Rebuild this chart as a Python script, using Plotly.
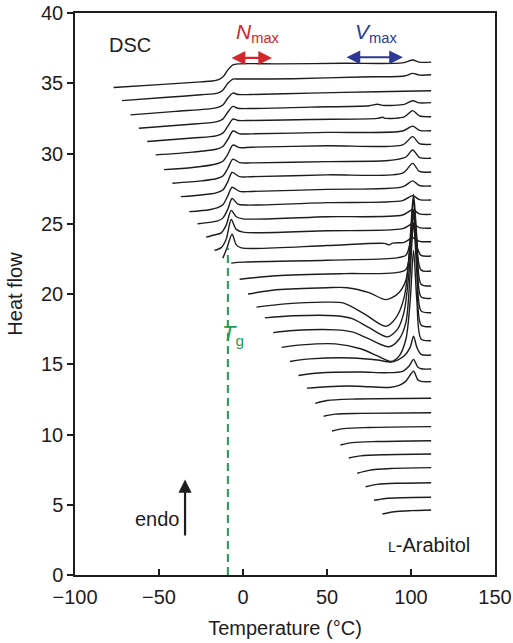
import plotly.graph_objects as go

# ---- DATA: DSC heating curves of L-arabitol, key points (Temperature °C, Heat flow) ----
# curves that start below Tg (show glass transition step / overshoot)
glass_curves = [
    [(-77, 34.7), (-50, 34.9), (-25, 35.1), (-16, 35.2), (-12, 35.45), (-9, 35.95), (-6, 36.3), (-3, 36.38), (20, 36.38), (60, 36.42), (95, 36.45), (101, 36.65), (105, 36.5), (112, 36.5)],
    [(-72, 33.76), (-45, 34.0), (-25, 34.18), (-15, 34.3), (-12, 34.5), (-9, 35.0), (-6, 35.3), (-3, 35.3), (30, 35.32), (70, 35.45), (96, 35.52), (101, 35.7), (105, 35.58), (112, 35.6)],
    [(-67, 32.75), (-40, 33.0), (-16, 33.25), (-12, 33.45), (-9, 33.95), (-6, 34.3), (-3, 34.2), (5, 34.2), (40, 34.3), (80, 34.4), (112, 34.47)],
    [(-62, 31.8), (-35, 32.05), (-16, 32.25), (-12, 32.45), (-9, 32.95), (-6, 33.35), (-3, 33.22), (5, 33.2), (40, 33.3), (75, 33.4), (80, 33.5), (84, 33.42), (96, 33.5), (101, 33.75), (105, 33.6), (112, 33.62)],
    [(-57, 30.85), (-30, 31.1), (-16, 31.25), (-12, 31.45), (-9, 31.95), (-6, 32.45), (-3, 32.35), (5, 32.35), (40, 32.42), (80, 32.5), (83, 32.58), (85, 32.5), (96, 32.6), (101, 33.05), (105, 32.68), (112, 32.62)],
    [(-52, 29.9), (-30, 30.1), (-16, 30.3), (-12, 30.5), (-9, 31.0), (-6, 31.6), (-2, 31.4), (5, 31.4), (50, 31.5), (95, 31.6), (101, 31.95), (105, 31.65), (112, 31.62)],
    [(-47, 28.85), (-30, 29.0), (-16, 29.25), (-12, 29.45), (-9, 29.95), (-6, 30.6), (-2, 30.42), (5, 30.45), (50, 30.55), (95, 30.62), (101, 31.2), (105, 30.7), (112, 30.65)],
    [(-42, 27.88), (-25, 28.05), (-16, 28.2), (-12, 28.4), (-9, 28.95), (-6, 29.6), (-2, 29.35), (5, 29.33), (50, 29.42), (85, 29.48), (92, 29.58), (97, 29.75), (101, 30.25), (105, 29.72), (112, 29.66)],
    [(-37, 26.93), (-25, 27.05), (-16, 27.2), (-12, 27.4), (-9, 28.0), (-6.5, 28.65), (-2, 28.35), (5, 28.35), (50, 28.48), (95, 28.6), (101, 29.3), (105, 28.72), (112, 28.68)],
    [(-32, 25.86), (-20, 26.0), (-15, 26.15), (-12, 26.35), (-9, 27.0), (-6.5, 27.6), (-2, 27.3), (5, 27.3), (50, 27.45), (95, 27.62), (101, 28.05), (105, 27.72), (112, 27.69)],
    [(-27, 25.0), (-20, 25.1), (-15, 25.2), (-12, 25.4), (-9, 26.05), (-6.5, 26.8), (-3, 26.4), (2, 26.33), (50, 26.5), (95, 26.65), (101, 27.0), (105, 26.72), (112, 26.69)],
    [(-22, 24.05), (-17, 24.2), (-13, 24.35), (-10, 24.9), (-7, 25.95), (-4, 25.5), (0, 25.35), (50, 25.5), (95, 25.62), (101, 26.0), (105, 25.7), (112, 25.67)],
    [(-17, 23.1), (-13, 23.3), (-10, 23.9), (-7, 25.3), (-4, 24.6), (0, 24.4), (50, 24.5), (95, 24.65), (101, 25.0), (105, 24.72), (112, 24.68)],
    [(-12, 22.55), (-9.5, 23.3), (-6.5, 24.25), (-4, 23.5), (-1, 23.28), (50, 23.45), (84, 23.6), (87, 23.5), (89, 23.62), (96, 23.68), (101, 24.0), (105, 23.75), (112, 23.72)],
]
# curves showing cold crystallisation (exotherm) and melting peak near 102 °C
cryst_curves = [
    [(-7, 22.2), (0, 22.27), (50, 22.4), (90, 22.55), (97, 22.75), (100, 24.0), (101.5, 25.0), (103, 23.6), (106, 22.75), (112, 22.7)],
    [(-2, 21.05), (20, 21.3), (60, 21.45), (90, 21.5), (97, 21.75), (100, 23.5), (101.5, 25.8), (103, 24.0), (106, 21.7), (112, 21.64)],
    [(3, 20.0), (20, 20.3), (50, 20.45), (62, 20.45), (75, 20.1), (85, 19.6), (92, 20.0), (97, 21.0), (99.5, 24.0), (101.5, 27.1), (103.5, 24.0), (106, 20.7), (112, 20.57)],
    [(8, 19.07), (25, 19.3), (50, 19.42), (60, 19.35), (72, 18.6), (85, 17.7), (91, 18.3), (96, 19.8), (99.5, 23.5), (101.5, 26.7), (103.5, 23.5), (106, 19.8), (112, 19.69)],
    [(13, 18.3), (30, 18.45), (55, 18.45), (65, 18.25), (75, 17.6), (86, 16.95), (92, 17.5), (96, 18.8), (99.5, 22.5), (101.5, 26.0), (103.5, 22.5), (106, 18.8), (112, 18.67)],
    [(18, 17.25), (30, 17.4), (55, 17.45), (65, 17.3), (75, 16.8), (87, 16.25), (93, 16.8), (97, 18.0), (99.5, 21.5), (101.5, 25.1), (103.5, 21.5), (106, 17.8), (112, 17.67)],
    [(23, 16.2), (35, 16.38), (55, 16.45), (70, 16.1), (80, 15.6), (88, 15.2), (93, 15.6), (97, 16.8), (99.5, 19.5), (101.5, 23.1), (103.5, 19.5), (106, 16.8), (112, 16.68)],
    [(28, 15.2), (40, 15.38), (65, 15.45), (80, 15.3), (88, 15.15), (92, 15.3), (96, 15.6), (99.5, 16.2), (101.5, 17.0), (103.5, 16.2), (106, 15.7), (112, 15.66)],
    [(33, 14.2), (45, 14.38), (70, 14.45), (85, 14.4), (95, 14.5), (99, 14.9), (101.5, 15.35), (104, 14.8), (106, 14.68), (112, 14.66)],
    [(38, 13.3), (50, 13.4), (62, 13.45), (75, 13.4), (87, 13.35), (93, 13.5), (97, 13.8), (101.5, 14.5), (104, 13.9), (106, 13.78), (112, 13.76)],
]
# curves starting above the crystallisation range (flat)
flat_curves = [
    [(43, 12.22), (50, 12.42), (65, 12.52), (112, 12.58)],
    [(48, 11.30), (55, 11.45), (70, 11.50), (112, 11.55)],
    [(53, 10.25), (60, 10.42), (75, 10.50), (112, 10.56)],
    [(58, 9.25), (65, 9.42), (80, 9.50), (112, 9.56)],
    [(63, 8.33), (70, 8.48), (85, 8.56), (112, 8.61)],
    [(68, 7.24), (75, 7.45), (88, 7.58), (112, 7.64)],
    [(73, 6.28), (80, 6.45), (92, 6.53), (112, 6.57)],
    [(78, 5.32), (85, 5.45), (95, 5.50), (112, 5.53)],
    [(83, 4.34), (90, 4.50), (100, 4.58), (112, 4.63)],
]
tg_temp = -9
tg_top = 23.3
x_ticks = [-100, -50, 0, 50, 100, 150]
y_ticks = [0, 5, 10, 15, 20, 25, 30, 35, 40]

FONT = "Liberation Sans, Arial, sans-serif"
INK = "#1e1c1d"
RED = "#d3262d"
BLUE = "#2d3995"
GREEN = "#1f9d55"

fig = go.Figure()

for curve in glass_curves + cryst_curves + flat_curves:
    fig.add_trace(go.Scatter(
        x=[p[0] for p in curve], y=[p[1] for p in curve],
        mode="lines", line=dict(color=INK, width=1.4, shape="spline", smoothing=0.8),
        hoverinfo="skip", showlegend=False))

# Tg dashed line
fig.add_trace(go.Scatter(x=[tg_temp, tg_temp], y=[0, tg_top], mode="lines",
                         line=dict(color=GREEN, width=2, dash="8px,5px"),
                         hoverinfo="skip", showlegend=False))

ann = []
ann.append(dict(x=-67.3, y=37.7, text="DSC", showarrow=False,
                font=dict(family=FONT, size=20, color=INK)))
ann.append(dict(x=9, y=38.6, text="<i>N</i><sub>max</sub>", showarrow=False,
                font=dict(family=FONT, size=21, color=RED)))
ann.append(dict(x=79, y=38.6, text="<i>V</i><sub>max</sub>", showarrow=False,
                font=dict(family=FONT, size=21, color=BLUE)))
ann.append(dict(x=-6.0, y=17.1, text="<i>T</i><sub>g</sub>", showarrow=False,
                font=dict(family=FONT, size=22, color=GREEN)))
ann.append(dict(x=-50.6, y=3.98, text="endo", showarrow=False,
                font=dict(family=FONT, size=20, color=INK)))
ann.append(dict(x=111, y=2.13, text="<span style='font-size:14px'>L</span>-Arabitol", showarrow=False,
                font=dict(family=FONT, size=20, color=INK)))
ann.append(dict(x=17.3, y=36.8, ax=-7.7, ay=36.8, axref="x", ayref="y", xref="x", yref="y",
                text="", showarrow=True, arrowhead=2, arrowside="end+start",
                arrowsize=1.25, arrowwidth=2.2, arrowcolor=RED))
ann.append(dict(x=95.2, y=36.85, ax=60.7, ay=36.85, axref="x", ayref="y", xref="x", yref="y",
                text="", showarrow=True, arrowhead=2, arrowside="end+start",
                arrowsize=1.25, arrowwidth=2.2, arrowcolor=BLUE))
ann.append(dict(x=-34.5, y=6.8, ax=-34.5, ay=2.7, axref="x", ayref="y", xref="x", yref="y",
                text="", showarrow=True, arrowhead=2, arrowsize=1.2, arrowwidth=2.2, arrowcolor=INK))

fig.update_layout(
    width=513, height=643,
    margin=dict(l=75, r=18, t=13, b=68, autoexpand=False),
    paper_bgcolor="white", plot_bgcolor="white",
    font=dict(family=FONT, size=20, color=INK),
    annotations=ann,
    xaxis=dict(range=[-100, 150], tickvals=x_ticks, ticks="inside", ticklen=6, tickwidth=1.5,
               tickcolor=INK, showline=True, linecolor=INK, linewidth=1.5, mirror=True,
               showgrid=False, zeroline=False, automargin=False, ticklabelstandoff=3,
               title=dict(text="Temperature (°C)", font=dict(size=20), standoff=14),
               tickfont=dict(size=20)),
    yaxis=dict(range=[0, 40], tickvals=y_ticks, ticks="outside", ticklen=6, tickwidth=1.5,
               tickcolor=INK, showline=True, linecolor=INK, linewidth=1.5, mirror=True,
               showgrid=False, zeroline=False, automargin=False,
               title=dict(text="Heat flow", font=dict(size=20), standoff=13),
               tickfont=dict(size=20)),
)

fig.write_html("out.html")
